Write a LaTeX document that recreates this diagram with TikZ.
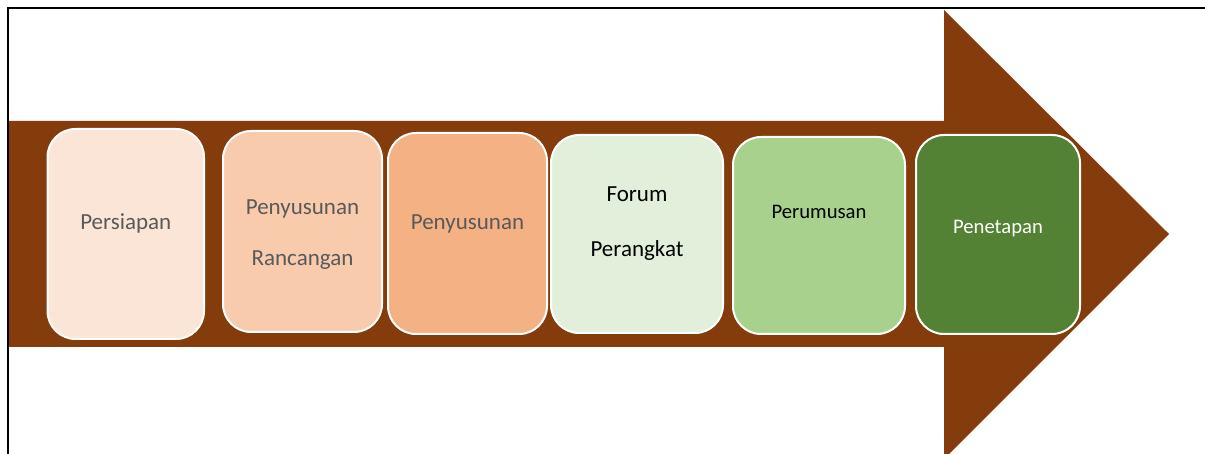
\documentclass[tikz,border=0pt]{standalone}
\usepackage{fontspec}
\setmainfont{Carlito}
\definecolor{arrowbrown}{HTML}{843C0C}
\definecolor{txtgray}{HTML}{595959}
\definecolor{cA}{HTML}{FBE5D6}
\definecolor{cB}{HTML}{F8CBAD}
\definecolor{cC}{HTML}{F4B183}
\definecolor{cD}{HTML}{E2EFDA}
\definecolor{cE}{HTML}{A9D18E}
\definecolor{cF}{HTML}{548235}
\tikzset{
  stage/.style={draw=white, line width=2pt, rounded corners=28pt, inner sep=0pt},
  big/.style={anchor=base, font=\fontsize{23}{27}\selectfont, inner sep=0pt},
  small/.style={anchor=base, font=\fontsize{20.7}{25}\selectfont, inner sep=0pt},
}
\begin{document}
\begin{tikzpicture}[x=1pt,y=-1pt]
\useasboundingbox (0,0) rectangle (1205,454);
\fill[white] (0,0) rectangle (1205,454);
% arrow
\fill[arrowbrown] (8,121) -- (944,121) -- (944,10) -- (1169,234) -- (944,459) -- (944,347) -- (8,347) -- cycle;
% frame
\draw[line width=2.2pt, black] (8,454) -- (8,8) -- (1205,8);
% stages
\node[stage, fill=cA, minimum width=156.5pt, minimum height=210pt] (b1) at (125.75,234) {};
\node[stage, fill=cB, minimum width=159pt, minimum height=201pt] (b2) at (302.5,231.5) {};
\node[stage, fill=cC, minimum width=159pt, minimum height=201pt] (b3) at (467.5,233.5) {};
\node[stage, fill=cD, minimum width=172pt, minimum height=198pt] (b4) at (637,234) {};
\node[stage, fill=cE, minimum width=172pt, minimum height=197pt] (b5) at (819,235.5) {};
\node[stage, fill=cF, minimum width=164pt, minimum height=199pt] (b6) at (998,234.5) {};
% texts
\node[big, text=txtgray] (t1) at (b1.center |- 0,230) {Persiapan};
\node[big, text=txtgray] (t2a) at (b2.center |- 0,215) {Penyusunan};
\node[big, text=txtgray] (t2b) at (b2.center |- 0,266) {Rancangan};
\node[big, text=txtgray] (t3) at (b3.center |- 0,230) {Penyusunan};
\node[big, text=black] (t4a) at (b4.center |- 0,202) {Forum};
\node[big, text=black] (t4b) at (b4.center |- 0,257) {Perangkat};
\node[small, text=black] (t5) at (b5.center |- 0,219) {Perumusan};
\node[small, text=white] (t6) at (b6.center |- 0,234) {Penetapan};
\end{tikzpicture}
\end{document}
